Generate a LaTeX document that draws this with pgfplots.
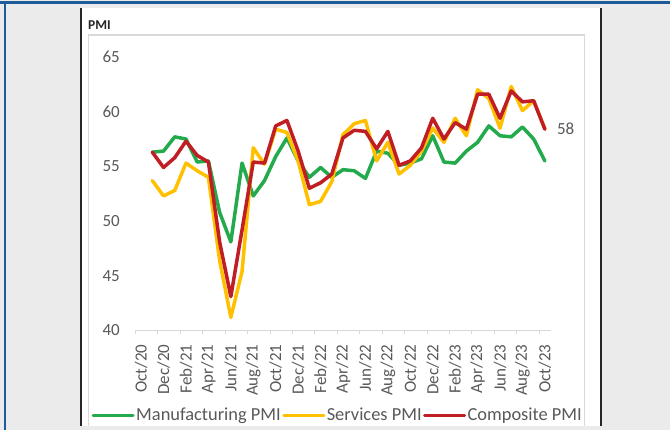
\documentclass[border=0pt]{standalone}
\usepackage{fontspec}
\setmainfont{Carlito}
\usepackage{pgfplots}
\pgfplotsset{compat=1.18}

\definecolor{bggray}{HTML}{EBEBEB}
\definecolor{frameblue}{HTML}{1F5A9A}
\definecolor{panelline}{HTML}{262626}
\definecolor{boxgray}{HTML}{D9D9D9}
\definecolor{txtgray}{HTML}{595959}
\definecolor{mfg}{RGB}{34,170,76}
\definecolor{svc}{HTML}{FFC000}
\definecolor{cmp}{RGB}{192,30,36}

% India PMI, Nov/20 .. Oct/23 (category 0 = Oct/20 is empty)
\pgfplotstableread{
i  manu  serv  comp
1  56.3  53.7  56.3
2  56.4  52.3  54.9
3  57.7  52.8  55.8
4  57.5  55.3  57.3
5  55.4  54.6  56.0
6  55.5  54.0  55.4
7  50.8  46.4  48.1
8  48.1  41.2  43.1
9  55.3  45.4  49.2
10 52.3  56.7  55.4
11 53.7  55.2  55.3
12 55.9  58.4  58.7
13 57.6  58.1  59.2
14 55.5  55.5  56.4
15 54.0  51.5  53.0
16 54.9  51.8  53.5
17 54.0  53.6  54.3
18 54.7  57.9  57.6
19 54.6  58.9  58.3
20 53.9  59.2  58.2
21 56.4  55.5  56.6
22 56.2  57.2  58.2
23 55.1  54.3  55.1
24 55.3  55.1  55.5
25 55.7  56.4  56.7
26 57.8  58.5  59.4
27 55.4  57.2  57.5
28 55.3  59.4  59.0
29 56.4  57.8  58.4
30 57.2  62.0  61.6
31 58.7  61.2  61.6
32 57.8  58.5  59.4
33 57.7  62.3  61.9
34 58.6  60.1  60.9
35 57.5  61.0  61.0
36 55.5  58.4  58.4
}\pmidata

\begin{document}
\begin{tikzpicture}
% page furniture, 1 unit = 1 px of the reference
\begin{scope}[x=1pt,y=1pt]
\useasboundingbox (0,0) rectangle (670,430);
\fill[bggray] (0,0) rectangle (670,430);
\fill[frameblue] (0,426) rectangle (670,428.5);
\fill[frameblue] (3.5,0) rectangle (5.5,428.5);
\fill[white] (80,4) rectangle (601,422);
\fill[panelline] (79.5,4) rectangle (81.5,422);
\fill[panelline] (599.5,4) rectangle (601.5,422);
\draw[boxgray, line width=1.2pt] (88.5,4) -- (88.5,395) -- (584.5,395) -- (584.5,4);
\node[anchor=west, inner sep=0pt, font=\bfseries\fontsize{13.5}{15}\selectfont, text=panelline] at (88,405) {PMI};
\end{scope}

\begin{scope}
\clip (80pt,4pt) rectangle (584pt,422pt);
\begin{axis}[
    at={(135.5pt,99.5pt)}, anchor=south west,
    scale only axis, width=415pt, height=273.5pt,
    xmin=-0.5, xmax=36.5,
    ymin=40, ymax=65,
    clip=false,
    separate axis lines,
    axis x line*=bottom, axis y line*=left,
    x axis line style={draw=boxgray, line width=1.2pt, -},
    y axis line style={draw=none},
    ytick={40,45,...,65},
    ytick style={draw=none},
    xtick={0,2,...,36},
    xticklabels={Oct/20,Dec/20,Feb/21,Apr/21,Jun/21,Aug/21,Oct/21,Dec/21,Feb/22,Apr/22,Jun/22,Aug/22,Oct/22,Dec/22,Feb/23,Apr/23,Jun/23,Aug/23,Oct/23},
    minor xtick={-0.5,1.5,...,35.5},
    tick align=outside,
    major tick length=0pt,
    minor tick length=4pt,
    minor x tick style={draw=boxgray, line width=1pt},
    major x tick style={draw=none},
    /pgf/number format/assume math mode=true,
    tick label style={font=\fontsize{17}{19}\selectfont, text=txtgray, inner sep=0pt},
    xticklabel style={rotate=90, anchor=east},
    xticklabel shift=14pt,
    yticklabel shift=15.5pt,
    legend columns=3,
    legend cell align=left,
    legend style={at={(-0.106,-0.309)}, anchor=west, draw=none, fill=none,
        inner sep=0pt, font=\fontsize{18.4}{20}\selectfont, text=txtgray,
        nodes={inner sep=1.5pt},
        /tikz/every even column/.append style={column sep=0pt}},
    legend image code/.code={\draw[#1, line width=3pt] (0pt,0pt) -- (40pt,0pt);},
    every axis plot/.append style={line width=3.5pt, line join=round, line cap=round},
]
\addplot[mfg] table[x=i, y=manu] {\pmidata};
\addlegendentry{Manufacturing PMI}
\addplot[svc] table[x=i, y=serv] {\pmidata};
\addlegendentry{Services PMI}
\addplot[cmp] table[x=i, y=comp] {\pmidata};
\addlegendentry{Composite PMI}
\node[anchor=west, inner sep=0pt, xshift=12pt, font=\fontsize{17}{19}\selectfont, text=txtgray] at (axis cs:36,58.4) {58};
\end{axis}
\end{scope}
\end{tikzpicture}
\end{document}
